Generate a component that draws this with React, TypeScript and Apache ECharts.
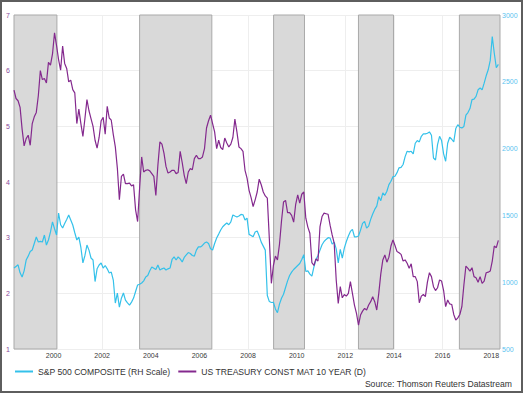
import React, { useEffect, useRef } from "react";
import * as echarts from "echarts";

// Monthly observations, May 1998 through April 2018
const START_YEAR = 1998;
const START_MONTH = 5;

const treasury10y: number[] = [
  // 1998 May-Dec
  5.65, 5.5, 5.46, 5.34, 4.95, 4.65, 4.78, 4.84,
  // 1999
  4.66, 5.05, 5.17, 5.25, 5.55, 6.0, 5.84, 5.86, 5.78, 6.15, 6.1, 6.3,
  // 2000
  6.68, 6.45, 6.2, 6.01, 6.44, 6.13, 6.04, 5.8, 5.83, 5.66, 5.6, 5.05,
  // 2001
  5.31, 5.05, 4.82, 5.14, 5.48, 5.28, 5.14, 5.0, 4.75, 4.61, 4.8, 5.1,
  // 2002
  5.16, 4.86, 5.36, 5.15, 5.11, 4.85, 4.63, 4.25, 3.68, 4.1, 4.14, 3.97,
  // 2003
  3.97, 3.98, 3.93, 3.95, 3.5, 3.29, 3.9, 4.45, 4.18, 4.21, 4.22, 4.2,
  // 2004
  4.15, 4.1, 3.76, 4.3, 4.72, 4.68, 4.52, 4.28, 4.16, 4.18, 4.21, 4.21,
  // 2005
  4.15, 4.17, 4.55, 4.35, 4.12, 3.97, 4.18, 4.24, 4.22, 4.42, 4.48, 4.42,
  // 2006
  4.42, 4.45, 4.6, 4.97, 5.1, 5.2, 5.05, 4.9, 4.6, 4.75, 4.62, 4.58,
  // 2007
  4.79, 4.7, 4.63, 4.68, 4.8, 5.13, 4.9, 4.63, 4.6, 4.55, 4.21, 4.07,
  // 2008
  3.85, 3.72, 3.56, 3.68, 3.82, 4.05, 3.95, 3.82, 3.75, 3.71, 2.98, 2.18,
  // 2009
  2.5, 2.67, 2.6, 2.88, 3.3, 3.64, 3.67, 3.45, 3.45, 3.4, 3.28, 3.6,
  // 2010
  3.77, 3.62, 3.78, 3.82, 3.35, 3.19, 3.08, 2.55, 2.5, 2.62, 2.58, 3.2,
  // 2011
  3.38, 3.44, 3.43, 3.42, 3.22, 3.05, 2.9, 2.24, 1.82, 2.12, 1.92, 1.98,
  // 2012
  1.95, 2.0, 2.21, 2.0, 1.79, 1.64, 1.43, 1.61, 1.68, 1.73, 1.7, 1.79,
  // 2013
  1.85, 1.94, 1.85, 1.7, 2.0, 2.35, 2.6, 2.69, 2.56, 2.65, 2.85, 2.96,
  // 2014
  2.86, 2.75, 2.73, 2.7, 2.58, 2.6, 2.54, 2.45, 2.53, 2.3, 2.3, 2.21,
  // 2015
  1.83, 1.95, 1.98, 1.94, 2.2, 2.37, 2.3, 2.12, 2.05, 2.1, 2.24, 2.22,
  // 2016
  2.05, 1.76, 1.88, 1.81, 1.8, 1.62, 1.52, 1.56, 1.62, 1.76, 2.15, 2.49,
  // 2017
  2.45, 2.4, 2.46, 2.3, 2.28, 2.2, 2.3, 2.18, 2.22, 2.37, 2.38, 2.4,
  // 2018 Jan-Apr
  2.58, 2.85, 2.82, 2.95,
];

const sp500: number[] = [
  // 1998 May-Dec
  1106, 1118, 1130, 1070, 1039, 1085, 1166, 1195,
  // 1999
  1230, 1241, 1290, 1338, 1301, 1305, 1301, 1353, 1278, 1316, 1376, 1451,
  // 2000
  1400, 1353, 1518, 1430, 1406, 1440, 1470, 1503, 1465, 1428, 1370, 1316,
  // 2001
  1338, 1260, 1144, 1200, 1278, 1240, 1181, 1166, 1005, 1100, 1129, 1144,
  // 2002
  1106, 1125, 1100, 1069, 1076, 1016, 844, 919, 814, 880, 919, 866,
  // 2003
  845, 829, 851, 881, 930, 979, 985, 994, 1010, 1039, 1050, 1085,
  // 2004
  1114, 1105, 1095, 1129, 1091, 1100, 1106, 1091, 1100, 1106, 1170, 1189,
  // 2005
  1166, 1189, 1175, 1151, 1185, 1204, 1222, 1215, 1200, 1195, 1240, 1264,
  // 2006
  1264, 1275, 1293, 1301, 1290, 1250, 1241, 1290, 1331, 1360, 1391, 1415,
  // 2007
  1430, 1443, 1430, 1451, 1503, 1495, 1488, 1495, 1507, 1505, 1466, 1480,
  // 2008
  1358, 1350, 1340, 1376, 1383, 1346, 1300, 1270, 1240, 900, 855, 848,
  // 2009
  850, 800, 772, 836, 880, 910, 960, 1010, 1050, 1075, 1095, 1110,
  // 2010
  1125, 1140, 1170, 1206, 1080, 1085, 1060, 1045, 1114, 1170, 1200, 1240,
  // 2011
  1280, 1305, 1320, 1333, 1330, 1285, 1300, 1250, 1145, 1246, 1180, 1255,
  // 2012
  1305, 1346, 1380, 1396, 1340, 1340, 1346, 1390, 1440, 1455, 1405, 1420,
  // 2013
  1470, 1510, 1545, 1569, 1640, 1610, 1669, 1650, 1681, 1730, 1756, 1790,
  // 2014
  1793, 1820, 1856, 1860, 1881, 1940, 1980, 1975, 1980, 1960, 2040, 2060,
  // 2015
  2050, 2092, 2110, 2110, 2115, 2125, 2100, 1930, 1915, 2030, 2092, 2060,
  // 2016
  1960, 1905, 2040, 2085, 2070, 2050, 2150, 2179, 2160, 2155, 2166, 2250,
  // 2017
  2270, 2300, 2366, 2370, 2391, 2440, 2453, 2440, 2490, 2545, 2590, 2660,
  // 2018 Jan-Apr
  2838, 2714, 2605, 2630,
];

const yearTicks: number[] = [2000, 2002, 2004, 2006, 2008, 2010, 2012, 2014, 2016, 2018];

// Shaded periods (decimal years)
const shadedPeriods: [number, number][] = [
  [1998.375, 2000.14],
  [2003.54, 2006.51],
  [2009.05, 2010.32],
  [2012.54, 2013.98],
  [2016.69, 2018.36],
];

const X_MIN = 1998.375;
const X_MAX = 2018.36;

const SP_NAME = "S&P 500 COMPOSITE (RH Scale)";
const UST_NAME = "US TREASURY CONST MAT 10 YEAR (D)";
const SOURCE = "Source: Thomson Reuters Datastream";

const SP_COLOR = "#34c1ea";
const UST_COLOR = "#84298e";
const FONT = "'Liberation Sans', Arial, sans-serif";

const monthX = (i: number) => START_YEAR + (START_MONTH - 1 + i + 0.5) / 12;

export default function App() {
  const ref = useRef<HTMLDivElement>(null);

  useEffect(() => {
    if (!ref.current) return;
    const chart = echarts.init(ref.current, undefined, { renderer: "svg" });
    const option: any = {
      animation: false,
      backgroundColor: "#ffffff",
      grid: {
        left: 14,
        right: 23,
        top: 15,
        bottom: 44,
        containLabel: false,
        outerBoundsMode: "none",
      },
      xAxis: {
        type: "value",
        min: X_MIN,
        max: X_MAX,
        axisLine: { show: false },
        axisTick: { show: false, customValues: yearTicks },
        axisLabel: {
          customValues: yearTicks,
          formatter: (v: number) => String(Math.round(v)),
          fontSize: 7,
          color: "#3a3a3a",
          margin: 3,
          fontFamily: FONT,
        },
        splitLine: { show: true, lineStyle: { color: "#eeeeee", width: 1 } },
      },
      yAxis: [
        {
          type: "value",
          position: "left",
          min: 1,
          max: 7,
          interval: 1,
          axisLine: { show: false },
          axisTick: { show: false },
          axisLabel: {
            fontSize: 7,
            color: "#8a4a9a",
            margin: 4,
            fontFamily: FONT,
            formatter: (v: number) => String(v),
          },
          splitLine: { show: true, lineStyle: { color: "#eeeeee", width: 1 } },
        },
        {
          type: "value",
          position: "right",
          min: 500,
          max: 3000,
          interval: 500,
          axisLine: { show: false },
          axisTick: { show: false },
          axisLabel: {
            fontSize: 7,
            color: "#5cc3ef",
            margin: 2,
            fontFamily: FONT,
            formatter: (v: number) => String(v),
          },
          splitLine: { show: false },
        },
      ],
      legend: {
        left: 15,
        top: 367,
        padding: 0,
        itemGap: 8,
        itemWidth: 18,
        itemHeight: 2,
        icon: "rect",
        textStyle: { fontSize: 8.6, color: "#333333", fontFamily: FONT },
        data: [SP_NAME, UST_NAME],
      },
      series: [
        {
          name: SP_NAME,
          type: "line",
          yAxisIndex: 1,
          data: sp500.map((v, i) => [monthX(i), v]),
          showSymbol: false,
          symbol: "none",
          lineStyle: { color: SP_COLOR, width: 1.2 },
          itemStyle: { color: SP_COLOR },
          markArea: {
            silent: true,
            itemStyle: { color: "#d9d9d9", borderColor: "#a9a9a9", borderWidth: 1 },
            data: shadedPeriods.map(([a, b]) => [{ xAxis: a }, { xAxis: b }]),
          },
        },
        {
          name: UST_NAME,
          type: "line",
          yAxisIndex: 0,
          data: treasury10y.map((v, i) => [monthX(i), v]),
          showSymbol: false,
          symbol: "none",
          lineStyle: { color: UST_COLOR, width: 1.2 },
          itemStyle: { color: UST_COLOR },
        },
      ],
      graphic: [
        {
          type: "rect",
          shape: { x: 1, y: 1, width: 521, height: 391 },
          style: { fill: "none", stroke: "#5e5e5e", lineWidth: 2 },
          silent: true,
          z: 100,
        },
        {
          type: "text",
          right: 11,
          top: 379,
          style: { text: SOURCE, fontSize: 8.6, fill: "#333333", fontFamily: FONT },
          silent: true,
        },
      ],
    };
    chart.setOption(option);
    return () => chart.dispose();
  }, []);

  return (
    <div
      ref={ref}
      style={{ position: "fixed", left: 0, top: 0, width: 523, height: 393 }}
    />
  );
}
